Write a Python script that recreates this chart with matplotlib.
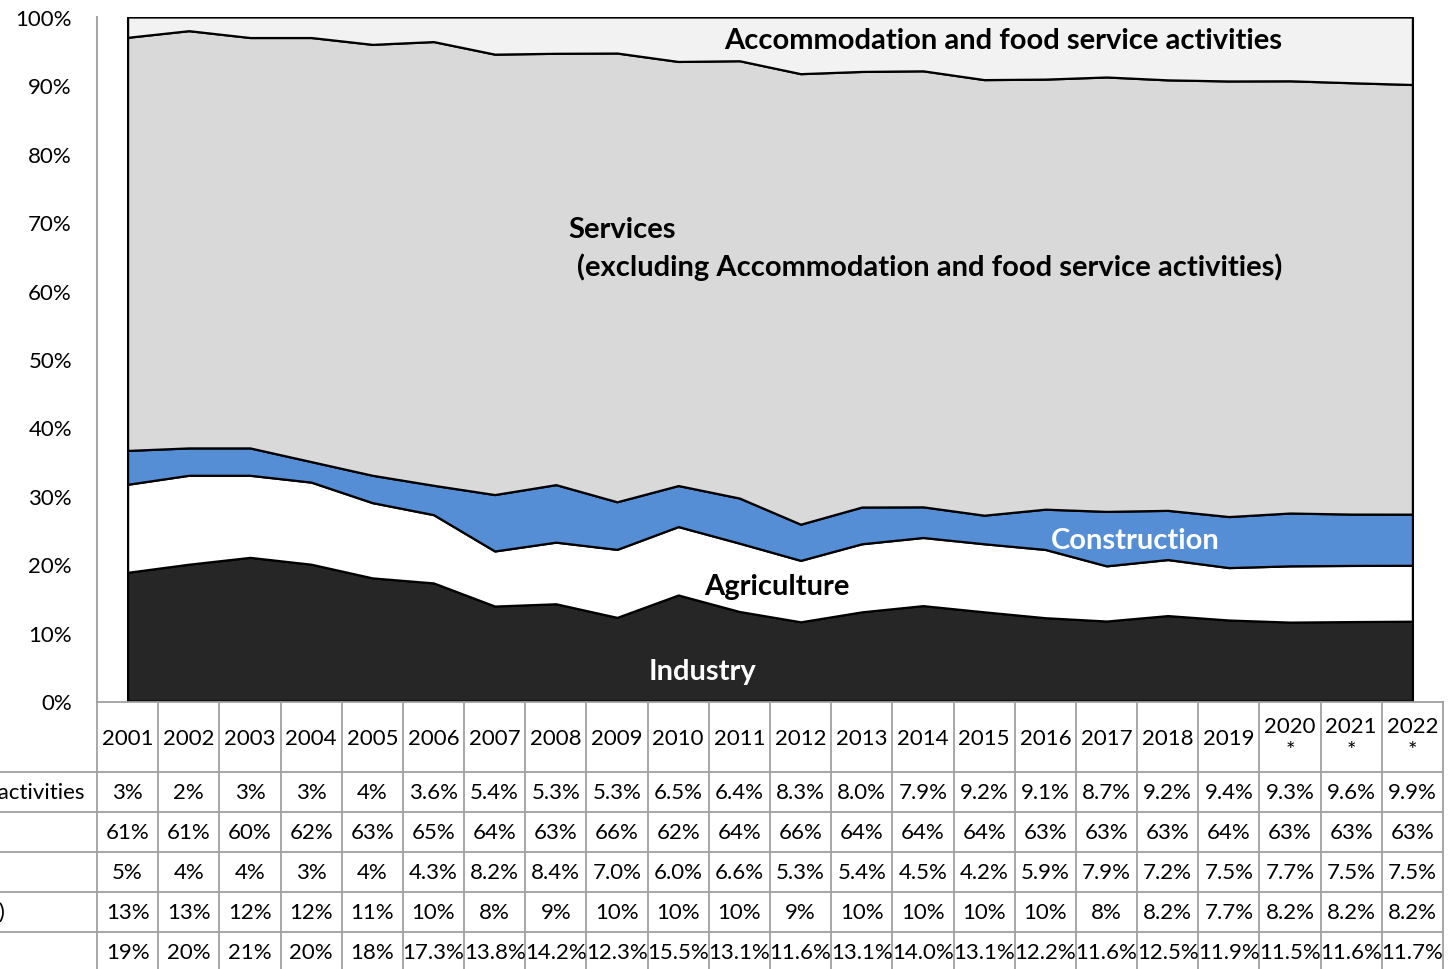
import matplotlib.pyplot as plt
import numpy as np

plt.rcParams["font.family"] = ["Lato", "DejaVu Sans"]

years = ["2001", "2002", "2003", "2004", "2005", "2006", "2007", "2008", "2009",
         "2010", "2011", "2012", "2013", "2014", "2015", "2016", "2017", "2018",
         "2019", "2020\n*", "2021\n*", "2022\n*"]

# table values as printed (top row first)
accommodation = ["3%", "2%", "3%", "3%", "4%", "3.6%", "5.4%", "5.3%", "5.3%", "6.5%",
                 "6.4%", "8.3%", "8.0%", "7.9%", "9.2%", "9.1%", "8.7%", "9.2%", "9.4%",
                 "9.3%", "9.6%", "9.9%"]
services = ["61%", "61%", "60%", "62%", "63%", "65%", "64%", "63%", "66%", "62%",
            "64%", "66%", "64%", "64%", "64%", "63%", "63%", "63%", "64%", "63%",
            "63%", "63%"]
construction = ["5%", "4%", "4%", "3%", "4%", "4.3%", "8.2%", "8.4%", "7.0%", "6.0%",
                "6.6%", "5.3%", "5.4%", "4.5%", "4.2%", "5.9%", "7.9%", "7.2%", "7.5%",
                "7.7%", "7.5%", "7.5%"]
agriculture = ["13%", "13%", "12%", "12%", "11%", "10%", "8%", "9%", "10%", "10%",
               "10%", "9%", "10%", "10%", "10%", "10%", "8%", "8.2%", "7.7%", "8.2%",
               "8.2%", "8.2%"]
industry = ["19%", "20%", "21%", "20%", "18%", "17.3%", "13.8%", "14.2%", "12.3%",
            "15.5%", "13.1%", "11.6%", "13.1%", "14.0%", "13.1%", "12.2%", "11.6%",
            "12.5%", "11.9%", "11.5%", "11.6%", "11.7%"]

row_labels = ["Accommodation and food service activities",
              "Services (excluding Accommodation and food service activities)",
              "Construction",
              "Agriculture (incl. forestry and fishing)",
              "Industry"]
table_rows = [accommodation, services, construction, agriculture, industry]


def to_num(col):
    return np.array([float(s.strip("%")) for s in col])


# stacked bottom -> top, normalised to 100 %
stack = np.vstack([to_num(industry), to_num(agriculture), to_num(construction),
                   to_num(services), to_num(accommodation)])
stack = stack / stack.sum(axis=0) * 100
colors = ["#262626", "#ffffff", "#558ed5", "#d9d9d9", "#f2f2f2"]

W, H = 1452, 970
fig = plt.figure(figsize=(W / 100, H / 100), dpi=100)

# ---- area chart ----
ax = fig.add_axes([97 / W, (H - 702) / H, 1346 / W, 684 / H])
x = np.arange(len(years))
ax.stackplot(x, stack, colors=colors, edgecolor="black", linewidth=1.6)
ax.set_xlim(-0.5, len(years) - 0.5)
ax.set_ylim(0, 100)
ax.set_yticks(np.arange(0, 101, 10))
ax.set_yticklabels([f"{v}%" for v in range(0, 101, 10)], fontsize=16)
ax.tick_params(axis="y", length=0, pad=18)
ax.set_xticks([])
for s in ["top", "right", "bottom"]:
    ax.spines[s].set_visible(False)
ax.spines["left"].set_color("#a6a6a6")
ax.spines["left"].set_linewidth(1.5)
ax.set_facecolor("none")

lab = dict(fontsize=21, fontweight="bold")
ax.text(14.31, 96.6, "Accommodation and food service activities", ha="center", va="center", **lab)
ax.text(7.21, 69.0, "Services", ha="left", va="center", **lab)
ax.text(7.35, 63.5, "(excluding Accommodation and food service activities)", ha="left", va="center", **lab)
ax.text(16.47, 23.5, "Construction", ha="center", va="center", color="white", **lab)
ax.text(10.61, 16.8, "Agriculture", ha="center", va="center", **lab)
ax.text(9.39, 4.4, "Industry", ha="center", va="center", color="white", **lab)

# ---- data table ----
tx = fig.add_axes([97 / W, 0, 1346 / W, 268 / H])
tx.set_xlim(-0.5, len(years) - 0.5)
tx.set_ylim(970, 702)
tx.axis("off")
grid = "#a0a0a0"
col_w = 1346 / len(years)
left_edge = -0.5 - 97 / col_w
for k in range(len(years) + 1):
    tx.plot([k - 0.5, k - 0.5], [703, 975], color=grid, lw=1.3, clip_on=False)
tx.plot([-0.5, len(years) - 0.5], [703, 703], color=grid, lw=1.3, clip_on=False)
row_edges = [773, 813, 853, 893, 933]
for y in row_edges:
    tx.plot([left_edge, len(years) - 0.5], [y, y], color=grid, lw=1.3, clip_on=False)

for i, yr in enumerate(years):
    tx.text(i, 739, yr, ha="center", va="center", fontsize=16, linespacing=1.3)

# row labels sit in a column that is mostly off the left edge
label_right = [85, -200, -200, 5, -200]
for r, (name, vals) in enumerate(zip(row_labels, table_rows)):
    yc = row_edges[r] + 20
    for i, v in enumerate(vals):
        tx.text(i, yc, v, ha="center", va="center", fontsize=16)
    xr = -0.5 - (97 - label_right[r]) / col_w
    tx.text(xr, yc, name, ha="right", va="center", fontsize=16, clip_on=False)

fig.savefig("out.png", dpi=100)
